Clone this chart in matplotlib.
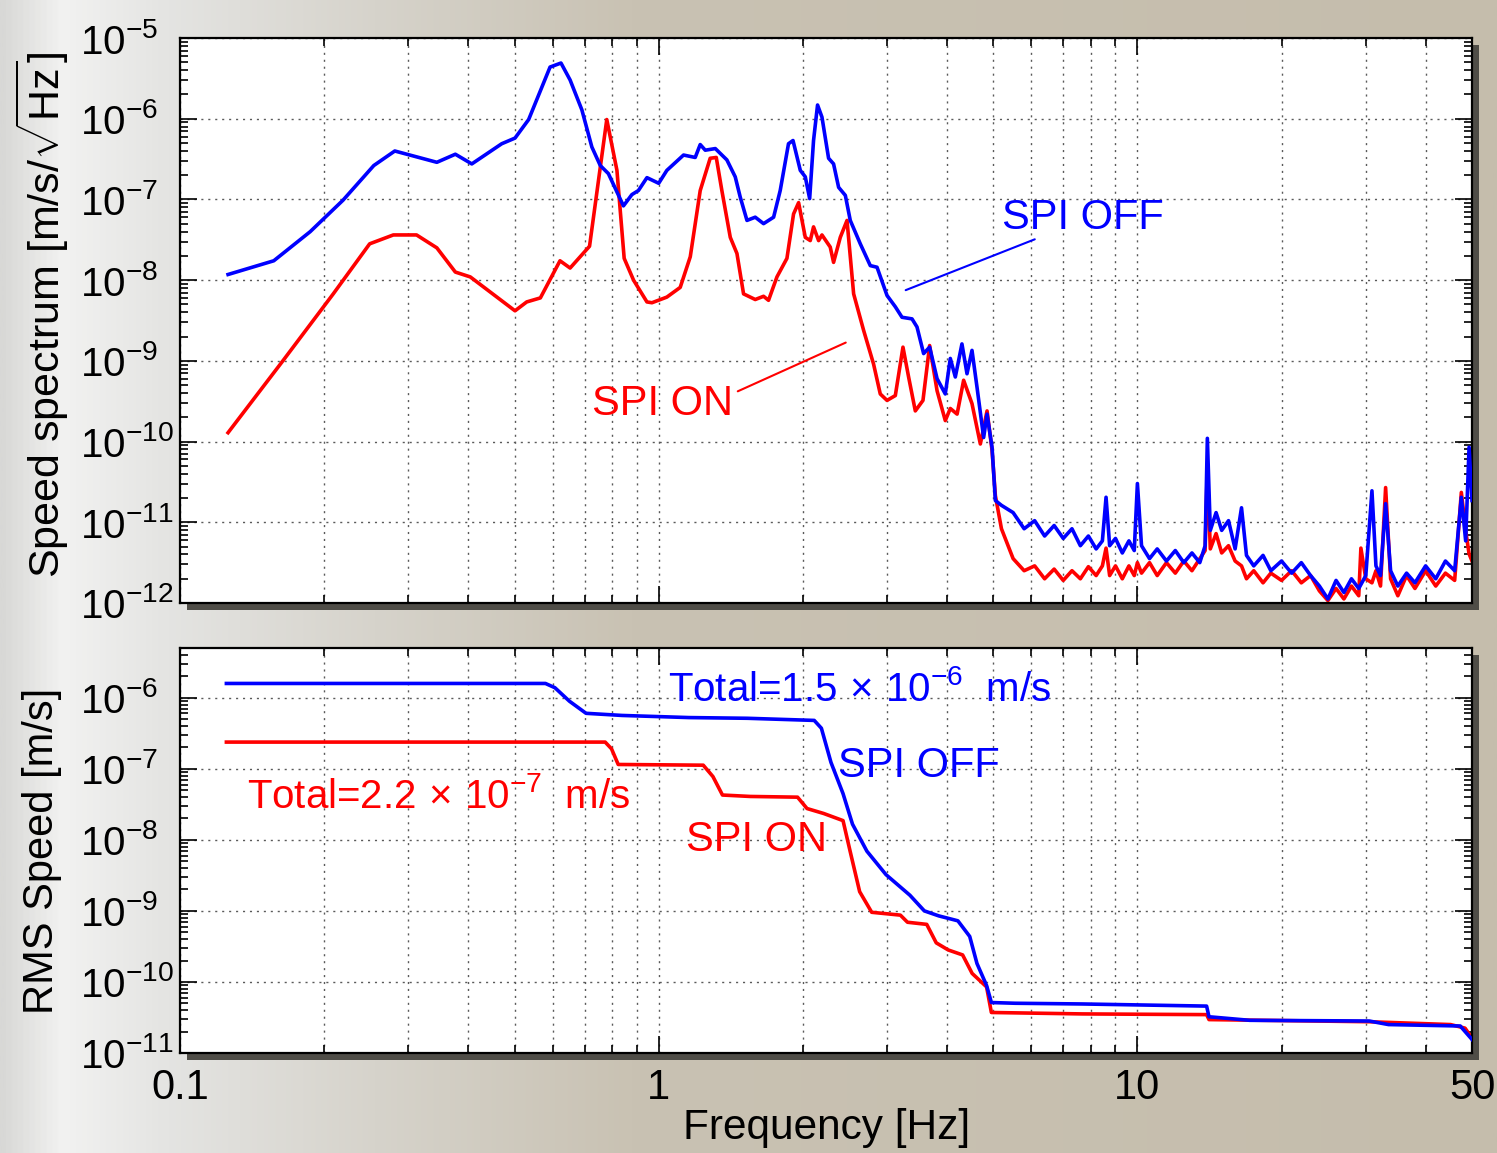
import numpy as np
import matplotlib
matplotlib.use("Agg")
import matplotlib.pyplot as plt
from matplotlib.ticker import LogLocator, NullFormatter, FixedLocator, FixedFormatter
from matplotlib.patches import Rectangle
from matplotlib.colors import LinearSegmentedColormap

# ---- data (frequency in Hz, values as log10) ----
# speed spectrum, SPI OFF (blue)
off_freq = [0.126, 0.157, 0.187, 0.219, 0.254, 0.281, 0.344, 0.376, 0.407, 0.470,
            0.501, 0.535, 0.593, 0.625, 0.653, 0.691, 0.725, 0.755, 0.785, 0.844,
            0.879, 0.907, 0.945, 1.00, 1.04, 1.127, 1.192, 1.221, 1.251, 1.313,
            1.388, 1.445, 1.480, 1.529, 1.591, 1.656, 1.738, 1.794, 1.867, 1.908,
            1.976, 2.024, 2.067, 2.106, 2.147, 2.193, 2.264, 2.319, 2.376, 2.454,
            2.513, 2.637, 2.767, 2.858, 2.999, 3.121, 3.223, 3.382, 3.464, 3.576,
            3.681, 3.815, 3.969, 4.066, 4.165, 4.300, 4.406, 4.513, 4.624, 4.773,
            4.852, 4.970, 5.05,
            5.2, 5.5, 5.8, 6.1, 6.4, 6.7, 7.0, 7.3, 7.6, 7.9, 8.2,
            8.45, 8.6, 8.75, 9.0, 9.3, 9.6, 9.85, 10.0, 10.2, 10.6,
            11.0, 11.5, 12.0, 12.5, 13.0, 13.5, 13.85, 14.0, 14.2, 14.6,
            15.0, 15.5, 16.0, 16.5, 16.9, 17.5, 18.3, 19.0, 20.0, 21.0,
            22.0, 23.0, 24.0, 25.0, 26.0, 27.0, 28.0, 29.0, 30.0, 30.9,
            31.5, 32.2, 33.0, 33.8, 35.0, 36.5, 38.0, 40.0, 42.0, 44.0,
            46.0, 47.5, 48.5, 49.3, 50.0]
off_psd_log = [-7.93, -7.76, -7.40, -7.01, -6.58, -6.40, -6.54, -6.44, -6.56, -6.31,
               -6.24, -6.01, -5.36, -5.31, -5.52, -5.89, -6.35, -6.58, -6.68, -7.08,
               -6.94, -6.89, -6.73, -6.80, -6.64, -6.45, -6.48, -6.32, -6.39, -6.37,
               -6.51, -6.72, -6.97, -7.26, -7.22, -7.30, -7.22, -6.89, -6.31, -6.27,
               -6.64, -6.72, -6.99, -6.27, -5.83, -5.98, -6.49, -6.56, -6.85, -6.95,
               -7.26, -7.55, -7.82, -7.84, -8.19, -8.33, -8.46, -8.48, -8.58, -8.91,
               -8.83, -9.22, -9.41, -8.97, -9.20, -8.79, -9.16, -8.87, -9.33, -9.95,
               -9.66, -10.07, -10.73,
               -10.79, -10.88, -11.08, -10.98, -11.17, -11.04, -11.20, -11.08, -11.29, -11.17, -11.33,
               -11.23, -10.69, -11.29, -11.20, -11.38, -11.23, -11.35, -10.52, -11.29, -11.45,
               -11.33, -11.48, -11.35, -11.50, -11.38, -11.50, -11.29, -9.96, -11.10, -10.88,
               -11.10, -10.98, -11.33, -10.82, -11.41, -11.54, -11.41, -11.60, -11.48, -11.63,
               -11.50, -11.66, -11.79, -11.95, -11.72, -11.87, -11.70, -11.82, -11.66, -10.61,
               -11.54, -11.66, -10.77, -11.60, -11.79, -11.63, -11.75, -11.54, -11.70, -11.48,
               -11.60, -10.69, -11.23, -10.07, -10.73]

# speed spectrum, SPI ON (red)
on_freq = [0.126, 0.164, 0.209, 0.249, 0.279, 0.312, 0.344, 0.376, 0.404, 0.501,
           0.530, 0.566, 0.622, 0.653, 0.717, 0.779, 0.818, 0.847, 0.886, 0.945,
           0.968, 1.04, 1.109, 1.164, 1.221, 1.281, 1.319, 1.355, 1.411, 1.457,
           1.504, 1.591, 1.656, 1.696, 1.766, 1.853, 1.913, 1.960, 2.024, 2.073,
           2.106, 2.158, 2.193, 2.282, 2.319, 2.395, 2.474, 2.554, 2.679, 2.811,
           2.903, 2.999, 3.121, 3.238, 3.327, 3.436, 3.565, 3.681, 3.815, 3.969,
           4.066, 4.201, 4.335, 4.513, 4.698, 4.852, 4.970, 5.05,
           5.2, 5.5, 5.8, 6.1, 6.4, 6.7, 7.0, 7.3, 7.6, 7.9, 8.2,
           8.45, 8.6, 8.75, 9.0, 9.3, 9.6, 9.85, 10.0, 10.2, 10.6,
           11.0, 11.5, 12.0, 12.5, 13.0, 13.5, 13.85, 14.0, 14.2, 14.6,
           15.0, 15.5, 16.0, 16.5, 16.9, 17.5, 18.3, 19.0, 20.0, 21.0,
           22.0, 23.0, 24.0, 25.0, 26.0, 27.0, 28.0, 29.0, 29.3, 30.0,
           30.9, 31.5, 32.2, 33.0, 33.8, 35.0, 36.5, 38.0, 40.0, 42.0,
           44.0, 46.0, 47.5, 48.5, 49.3, 50.0]
on_psd_log = [-9.89, -9.00, -8.17, -7.55, -7.44, -7.44, -7.60, -7.90, -7.96, -8.38,
              -8.27, -8.22, -7.76, -7.85, -7.58, -6.01, -6.64, -7.73, -8.00, -8.27,
              -8.28, -8.21, -8.09, -7.71, -6.89, -6.49, -6.48, -6.89, -7.47, -7.67,
              -8.17, -8.24, -8.20, -8.25, -7.96, -7.73, -7.18, -7.04, -7.47, -7.51,
              -7.34, -7.51, -7.44, -7.59, -7.78, -7.47, -7.26, -8.17, -8.62, -9.04,
              -9.41, -9.49, -9.43, -8.83, -9.20, -9.62, -9.49, -8.81, -9.37, -9.74,
              -9.59, -9.66, -9.24, -9.53, -10.03, -9.62, -10.11, -10.67,
              -11.08, -11.45, -11.60, -11.54, -11.70, -11.58, -11.72, -11.60, -11.70, -11.55, -11.66,
              -11.54, -11.32, -11.66, -11.54, -11.70, -11.54, -11.66, -11.50, -11.63, -11.50,
              -11.66, -11.50, -11.63, -11.48, -11.60, -11.45, -11.35, -10.30, -11.33, -11.14,
              -11.38, -11.29, -11.48, -11.54, -11.70, -11.60, -11.75, -11.63, -11.72, -11.60,
              -11.75, -11.66, -11.85, -11.97, -11.82, -11.95, -11.79, -11.91, -11.32, -11.70,
              -11.75, -11.60, -11.79, -10.57, -11.70, -11.91, -11.66, -11.82, -11.60, -11.79,
              -11.63, -11.72, -10.63, -11.10, -11.39, -11.48]

# cumulative RMS speed
rms_off_freq = [0.125, 0.580, 0.607, 0.651, 0.705, 0.838, 1.157, 1.531, 2.113, 2.187,
                2.290, 2.427, 2.540, 2.722, 2.984, 3.348, 3.588, 3.844, 4.217, 4.464,
                4.622, 4.841, 4.954, 5.554, 7.667, 13.95, 14.11, 17.16, 30.51, 33.46,
                47.25, 50.0]
rms_off_log = [-5.80, -5.80, -5.86, -6.05, -6.22, -6.25, -6.28, -6.29, -6.32, -6.43,
               -6.91, -7.35, -7.78, -8.16, -8.49, -8.78, -9.00, -9.07, -9.14, -9.36,
               -9.74, -10.05, -10.29, -10.30, -10.31, -10.34, -10.49, -10.54, -10.55, -10.60,
               -10.62, -10.81]
rms_on_freq = [0.125, 0.773, 0.797, 0.823, 1.239, 1.298, 1.359, 1.553, 1.950, 2.041,
               2.212, 2.427, 2.511, 2.629, 2.786, 3.198, 3.309, 3.630, 3.800, 4.025,
               4.314, 4.516, 4.841, 4.954, 7.667, 13.95, 14.11, 30.51, 45.11, 48.35,
               50.0]
rms_on_log = [-6.625, -6.625, -6.72, -6.94, -6.95, -7.11, -7.37, -7.39, -7.40, -7.56,
              -7.63, -7.73, -8.16, -8.73, -9.02, -9.06, -9.16, -9.19, -9.45, -9.55,
              -9.62, -9.88, -10.07, -10.43, -10.45, -10.46, -10.53, -10.56, -10.60, -10.65,
              -10.79]

x_ticks = [0.1, 1, 10, 50]
x_ticklabels = ["0.1", "1", "10", "50"]

# ---- style ----
plt.rcParams['font.family'] = ['Liberation Sans', 'DejaVu Sans']
plt.rcParams['mathtext.fontset'] = 'custom'
plt.rcParams['mathtext.rm'] = 'Liberation Sans'
plt.rcParams['mathtext.it'] = 'Liberation Sans:italic'
plt.rcParams['mathtext.bf'] = 'Liberation Sans:bold'

W, H = 1497, 1153
BLUE = '#0000ff'
RED = '#ff0000'

fig = plt.figure(figsize=(W / 100, H / 100), dpi=100)

# brushed-metal like backdrop
bg = fig.add_axes([0, 0, 1, 1], zorder=-10)
metal = LinearSegmentedColormap.from_list(
    'metal', [(0.0, '#d8d8d6'), (0.04, '#f2f2f1'), (0.11, '#e4e4e2'),
              (0.25, '#d6d3cb'), (0.42, '#c9c2b3'), (1.0, '#c5bdac')])
bg.imshow(np.linspace(0, 1, 512).reshape(1, -1), aspect='auto', cmap=metal,
          extent=[0, 1, 0, 1])
bg.axis('off')

ax1 = fig.add_axes([180 / W, 1 - 603 / H, 1292 / W, 565 / H])
ax2 = fig.add_axes([180 / W, 1 - 1053 / H, 1292 / W, 405 / H])


def add_shadow(ax, off=7):
    pos = ax.get_position()
    fig.add_artist(Rectangle((pos.x0 + off / W, pos.y0 - off / H), pos.width, pos.height,
                             transform=fig.transFigure, facecolor='#4f4d47',
                             edgecolor='none', zorder=-5))


def style_axes(ax, ylim, show_xlabels):
    ax.set_xscale('log')
    ax.set_yscale('log')
    ax.set_xlim(0.1, 50)
    ax.set_ylim(*ylim)
    ax.xaxis.set_major_locator(FixedLocator(x_ticks))
    ax.xaxis.set_major_formatter(FixedFormatter(x_ticklabels))
    ax.xaxis.set_minor_locator(LogLocator(base=10, subs=np.arange(2, 10), numticks=50))
    ax.xaxis.set_minor_formatter(NullFormatter())
    ax.yaxis.set_major_locator(LogLocator(base=10, numticks=50))
    ax.yaxis.set_minor_locator(LogLocator(base=10, subs=np.arange(2, 10), numticks=50))
    ax.yaxis.set_minor_formatter(NullFormatter())
    ax.tick_params(which='both', direction='in', top=True, right=True, width=1.2,
                   color='black')
    ax.tick_params(which='major', length=12)
    ax.tick_params(which='minor', length=6)
    ax.tick_params(axis='y', which='major', labelsize=29, pad=72)
    ax.tick_params(axis='x', which='major', labelsize=30, pad=11,
                   labelbottom=show_xlabels)
    plt.setp(ax.get_yticklabels(), ha='left')
    ax.grid(True, which='major', linestyle=(0, (1.5, 3.5)), color='#5a5a5a', lw=1.0)
    ax.grid(True, which='minor', axis='x', linestyle=(0, (1.5, 3.5)), color='#5a5a5a', lw=1.0)
    for s in ax.spines.values():
        s.set_linewidth(1.6)
    ax.set_facecolor('white')
    add_shadow(ax)


style_axes(ax1, (1e-12, 1e-5), False)
style_axes(ax2, (1e-11, 5e-6), True)

# ---- top: speed spectrum ----
ax1.plot(off_freq, 10.0 ** np.array(off_psd_log), color=BLUE, lw=2.6, zorder=3)
ax1.plot(on_freq, 10.0 ** np.array(on_psd_log), color=RED, lw=2.6, zorder=2)
ax1.set_ylabel(r'Speed spectrum [m/s/$\sqrt{\mathrm{Hz}}$]', fontsize=31, va='center')
ax1.yaxis.set_label_coords(-0.1068, 0.51)

ax1.text(5.22, 5.85e-8, 'SPI OFF', color=BLUE, fontsize=30, ha='left', va='center')
ax1.annotate('', xy=(3.24, 7.3e-9), xytext=(6.18, 3.3e-8),
             arrowprops=dict(arrowstyle='-', color=BLUE, lw=1.5))
ax1.text(0.726, 2.96e-10, 'SPI ON', color=RED, fontsize=30, ha='left', va='center')
ax1.annotate('', xy=(2.489, 1.74e-9), xytext=(1.445, 4.06e-10),
             arrowprops=dict(arrowstyle='-', color=RED, lw=1.5))

# ---- bottom: RMS speed ----
ax2.plot(rms_off_freq, 10.0 ** np.array(rms_off_log), color=BLUE, lw=2.6, zorder=3)
ax2.plot(rms_on_freq, 10.0 ** np.array(rms_on_log), color=RED, lw=2.6, zorder=2)
ax2.set_ylabel('RMS Speed [m/s]', fontsize=30, va='center')
ax2.yaxis.set_label_coords(-0.1068, 0.50)
ax2.set_xlabel('Frequency [Hz]', fontsize=30.5, va='center')
ax2.xaxis.set_label_coords(0.5008, -0.185)

ax2.text(1.047, 1.3e-6, r'Total=1.5$\,\times\,$10$^{-6}$  m/s', color=BLUE, fontsize=29,
         ha='left', va='center')
ax2.text(2.372, 1.1e-7, 'SPI OFF', color=BLUE, fontsize=30, ha='left', va='center')
ax2.text(0.138, 4.04e-8, r'Total=2.2$\,\times\,$10$^{-7}$  m/s', color=RED, fontsize=29,
         ha='left', va='center')
ax2.text(1.141, 1.0e-8, 'SPI ON', color=RED, fontsize=30, ha='left', va='center')

fig.savefig('out.png', dpi=100)
